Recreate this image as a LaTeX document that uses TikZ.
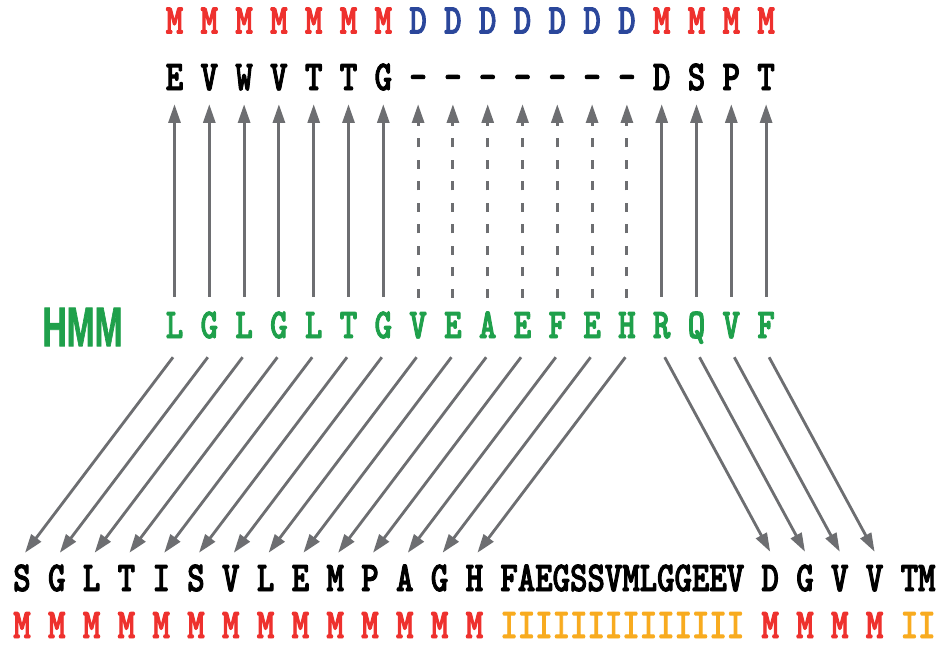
\documentclass[tikz,border=0pt]{standalone}
\usepackage{fontspec}
\usetikzlibrary{arrows.meta,calc}
\newfontfamily\seqfont[FakeStretch=0.78,FakeBold=2.2]{lmmonolt10-bold.otf}
\newfontfamily\labfont[FakeStretch=0.6,FakeBold=1.2]{Liberation Sans}
\definecolor{matchred}{HTML}{EE312E}
\definecolor{delblue}{HTML}{2B479B}
\definecolor{hmmgreen}{HTML}{1FA04B}
\definecolor{insorange}{HTML}{F8AB1F}
\definecolor{linkgray}{HTML}{6D6E71}
\tikzset{
  seq/.style={inner sep=0pt, text height=7.8mm, text depth=0pt,
    font=\seqfont\fontsize{36.3}{40}\selectfont},
  link/.style={draw=linkgray, line width=0.85mm,
    -{Triangle[length=5.6mm,width=3.6mm]}},
  gaplink/.style={link, dash pattern=on 2.7mm off 3.75mm},
}
\begin{document}
\begin{tikzpicture}[x=0.3mm,y=-0.3mm]
  \useasboundingbox (0,0) rectangle (938,645);
  % query states, query residues, HMM consensus
  \foreach \s/\c [count=\i] in {M/matchred,M/matchred,M/matchred,M/matchred,
      M/matchred,M/matchred,M/matchred,D/delblue,D/delblue,D/delblue,D/delblue,
      D/delblue,D/delblue,D/delblue,M/matchred,M/matchred,M/matchred,M/matchred}
    \node[seq, text=\c] (st\i) at ({174.5+34.8*(\i-1)},20.5) {\s};
  \foreach \r [count=\i] in {E,V,W,V,T,T,G,-,-,-,-,-,-,-,D,S,P,T}
    \node[seq] (tr\i) at ({174.5+34.8*(\i-1)},77) {\r};
  \foreach \r [count=\i] in {L,G,L,G,L,T,G,V,E,A,E,F,E,H,R,Q,V,F}
    \node[seq, text=hmmgreen] (hm\i) at ({174.5+34.8*(\i-1)},325) {\r};
  \node[font=\labfont\bfseries\fontsize{47.7}{50}\selectfont, text=hmmgreen,
    inner sep=0pt] (hmmlab) at (82.5,327) {HMM};
  % target sequence and its states
  \foreach \r [count=\i] in {S,G,L,T,I,S,V,L,E,M,P,A,G,H} {
    \node[seq] (bt\i) at ({22+34.8*(\i-1)},578) {\r};
    \node[seq, text=matchred] (bs\i) at ({22+34.8*(\i-1)},625) {M};
  }
  \foreach \r [count=\i from 15] in {D,G,V,V} {
    \node[seq] (bt\i) at ({770.2+34.8*(\i-15)},578) {\r};
    \node[seq, text=matchred] (bs\i) at ({770.2+34.8*(\i-15)},625) {M};
  }
  \node[seq] (ins) at (622.3,578) {FAEGSSVMLGGEEV};
  \node[seq, text=insorange] (insst) at (622.3,625) {IIIIIIIIIIIIII};
  \node[seq] (tail) at (918.1,578) {TM};
  \node[seq, text=insorange] (tailst) at (918.1,625) {II};
  % arrows up
  \foreach \i in {1,...,7,15,16,17,18}
    \draw[link] ($(hm\i.north)+(0,-15)$) -- ($(tr\i.south)+(0,14)$);
  \foreach \i in {8,...,14}
    \draw[gaplink] ($(hm\i.north)+(0,-14)$) -- ($(tr\i.south)+(0,14)$);
  % arrows down
  \foreach \i in {1,...,14}
    \draw[link] ($(hm\i.south)+(-1.5,19)$) -- ($(bt\i.north)+(3,-12)$);
  \foreach \i in {15,...,18}
    \draw[link] ($(hm\i.south)+(3,19)$) -- ($(bt\i.north)+(0,-13)$);
\end{tikzpicture}
\end{document}
